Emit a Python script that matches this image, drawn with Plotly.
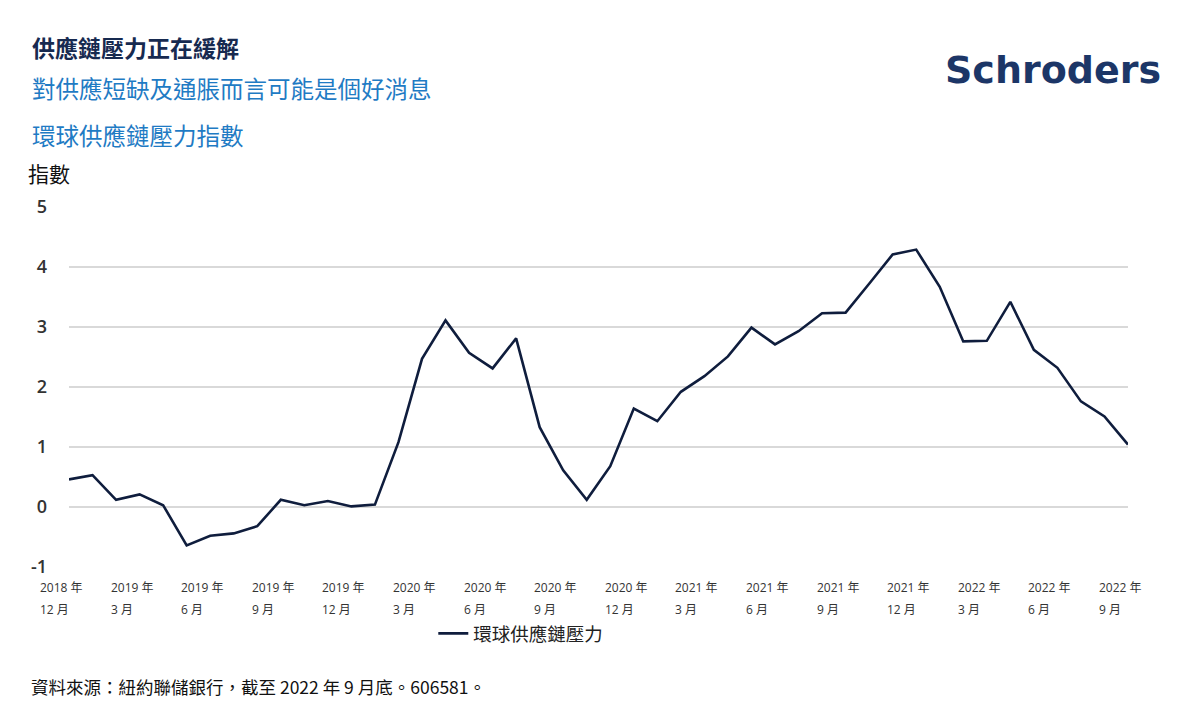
import plotly.graph_objects as go

# ---- data ----
months = ["2018-12", "2019-01", "2019-02", "2019-03", "2019-04", "2019-05", "2019-06", "2019-07",
          "2019-08", "2019-09", "2019-10", "2019-11", "2019-12", "2020-01", "2020-02", "2020-03",
          "2020-04", "2020-05", "2020-06", "2020-07", "2020-08", "2020-09", "2020-10", "2020-11",
          "2020-12", "2021-01", "2021-02", "2021-03", "2021-04", "2021-05", "2021-06", "2021-07",
          "2021-08", "2021-09", "2021-10", "2021-11", "2021-12", "2022-01", "2022-02", "2022-03",
          "2022-04", "2022-05", "2022-06", "2022-07", "2022-08", "2022-09"]
gscpi = [0.46, 0.53, 0.12, 0.21, 0.03, -0.64, -0.48, -0.44, -0.32, 0.12, 0.03, 0.10, 0.01, 0.04,
         1.08, 2.47, 3.11, 2.57, 2.31, 2.81, 1.33, 0.61, 0.12, 0.68, 1.64, 1.43, 1.92, 2.18,
         2.51, 2.99, 2.71, 2.93, 3.23, 3.24, 3.72, 4.21, 4.29, 3.67, 2.76, 2.77, 3.42, 2.62,
         2.32, 1.76, 1.51, 1.04]
tick_idx = [0, 3, 6, 9, 12, 15, 18, 21, 24, 27, 30, 33, 36, 39, 42, 45]
tick_years = ["2018 年", "2019 年", "2019 年", "2019 年", "2019 年", "2020 年", "2020 年", "2020 年",
              "2020 年", "2021 年", "2021 年", "2021 年", "2021 年", "2022 年", "2022 年", "2022 年"]
tick_months = ["12 月", "3 月", "6 月", "9 月", "12 月", "3 月", "6 月", "9 月",
               "12 月", "3 月", "6 月", "9 月", "12 月", "3 月", "6 月", "9 月"]
y_ticks = [-1, 0, 1, 2, 3, 4, 5]
series_name = "環球供應鏈壓力"

NUM_FONT = "Open Sans, Noto Sans CJK TC, sans-serif"
CJK_FONT = "Noto Sans CJK TC, sans-serif"

x_idx = list(range(len(months)))

W, H = 1200, 722
L, R, T, B = 69, 72, 207, 155
pw, ph = W - L - R, H - T - B

fig = go.Figure()
fig.add_trace(go.Scatter(
    x=x_idx, y=gscpi, mode="lines", name=series_name,
    line=dict(color="#0f1d3d", width=2.6),
    hovertext=months,
))

fig.update_layout(
    width=W, height=H,
    margin=dict(l=L, r=R, t=T, b=B),
    paper_bgcolor="white", plot_bgcolor="white",
    showlegend=True,
    legend=dict(orientation="h", x=0.344, y=-0.133, xanchor="left", yanchor="top",
                font=dict(family=CJK_FONT, size=18.5, color="#222222"),
                itemwidth=30, bgcolor="rgba(0,0,0,0)"),
    xaxis=dict(range=[0, len(months) - 1], showgrid=False, zeroline=False,
               showticklabels=False, showline=False, ticks=""),
    yaxis=dict(range=[-1, 5], tickvals=y_ticks, ticktext=[str(v) for v in y_ticks],
               showgrid=True, gridcolor="#d9d9d9", gridwidth=1.6, zeroline=False,
               showline=False, ticks="", ticklabelstandoff=21,
               tickfont=dict(family=NUM_FONT, size=18, color="#333333", weight=600)),
)

# x-axis labels (two lines, left aligned as in the original)
for i, yr, mo in zip(tick_idx, tick_years, tick_months):
    fig.add_annotation(x=i, y=1 - (587 - T) / ph, xref="x", yref="paper", xshift=-31,
                       xanchor="left", yanchor="middle", showarrow=False, text=yr,
                       font=dict(family=NUM_FONT, size=12, color="#333333"))
    fig.add_annotation(x=i, y=1 - (609 - T) / ph, xref="x", yref="paper", xshift=-31,
                       xanchor="left", yanchor="middle", showarrow=False, text=mo,
                       font=dict(family=NUM_FONT, size=12, color="#333333"))

# page texts, given in pixel positions, converted to paper coordinates
def page_text(px, py, text, font):
    fig.add_annotation(x=(px - L) / pw, y=1 - (py - T) / ph, xref="paper", yref="paper",
                       xanchor="left", yanchor="middle", showarrow=False, text=text, font=font)

page_text(30, 47, "<b>供應鏈壓力正在緩解</b>", dict(family=CJK_FONT, size=23, color="#172a50"))
page_text(30, 88, "對供應短缺及通脹而言可能是個好消息", dict(family=CJK_FONT, size=23.5, color="#1f7bc4"))
page_text(30, 135, "環球供應鏈壓力指數", dict(family=CJK_FONT, size=23.5, color="#1f7bc4"))
page_text(26, 173, "指數", dict(family=CJK_FONT, size=21, color="#111111"))
page_text(943, 70, "<b>Schroders</b>", dict(family="DejaVu Sans, sans-serif", size=38, color="#1c3667"))
page_text(29, 686, "資料來源：紐約聯儲銀行，截至 2022 年 9 月底。606581。",
          dict(family=CJK_FONT, size=17.5, color="#111111"))

fig.write_html("out.html")
